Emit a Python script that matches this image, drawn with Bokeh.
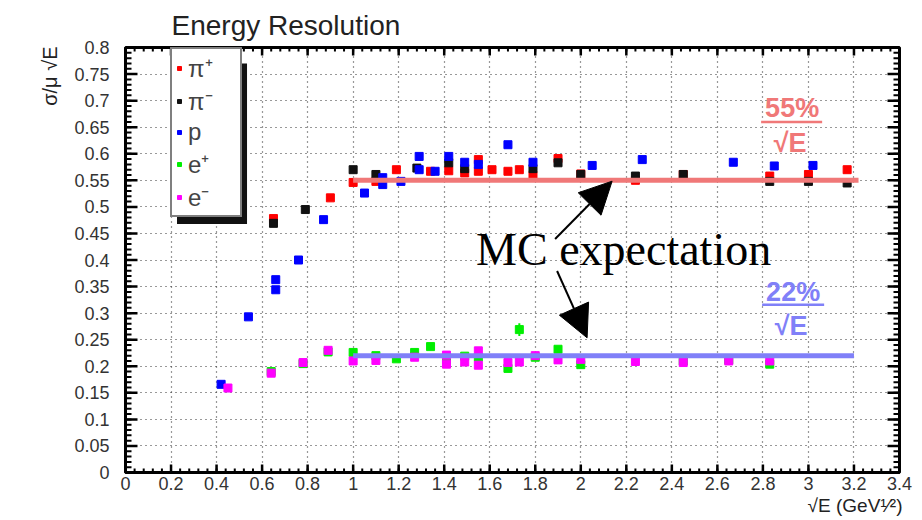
from math import pi
import numpy as np
from bokeh.plotting import figure
from bokeh.models import (Range1d, Label, BoxAnnotation, Legend, LegendItem, Title,
                          Arrow, NormalHead, FixedTicker)
from bokeh.embed import file_html
from bokeh.resources import INLINE

# ---------------- data ----------------
pip_x = [0.65, 0.90, 1.00, 1.10, 1.19, 1.34, 1.42, 1.49, 1.55, 1.55, 1.61, 1.68, 1.73,
         1.79, 1.90, 2.00, 2.24, 2.45, 2.83, 3.00, 3.17]
pip_y = [0.478, 0.517, 0.546, 0.548, 0.570, 0.567, 0.568, 0.564, 0.589, 0.567, 0.570, 0.567, 0.570,
         0.559, 0.591, 0.562, 0.550, 0.561, 0.558, 0.561, 0.570]

pim_x = [0.65, 0.79, 1.00, 1.10, 1.28, 1.42, 1.49, 1.79, 1.90, 2.00, 2.24, 2.45, 2.83, 3.00, 3.17]
pim_y = [0.469, 0.495, 0.570, 0.561, 0.573, 0.583, 0.572, 0.572, 0.583, 0.561, 0.558, 0.561,
         0.548, 0.548, 0.545]

p_x = [0.42, 0.54, 0.66, 0.66, 0.76, 0.87, 1.05, 1.13, 1.13, 1.21, 1.29, 1.29, 1.36, 1.42,
       1.49, 1.55, 1.68, 1.79, 2.05, 2.27, 2.67, 2.85, 3.02]
p_y = [0.166, 0.293, 0.363, 0.344, 0.400, 0.476, 0.526, 0.555, 0.542, 0.548, 0.595, 0.570,
       0.567, 0.595, 0.584, 0.580, 0.617, 0.584, 0.578, 0.589, 0.584, 0.577, 0.578]

ep_x = [0.64, 0.78, 0.89, 1.00, 1.10, 1.19, 1.27, 1.34, 1.41, 1.49, 1.55, 1.68, 1.73,
        1.80, 1.90, 2.00, 2.45, 2.65, 2.83]
ep_y = [0.190, 0.205, 0.227, 0.226, 0.220, 0.214, 0.226, 0.237, 0.213, 0.219, 0.217, 0.196,
        0.269, 0.217, 0.232, 0.203, 0.210, 0.212, 0.204]
ep_err = [0.003, 0.003, 0.003, 0.003, 0.003, 0.003, 0.003, 0.003, 0.003, 0.003, 0.003, 0.003,
          0.012, 0.003, 0.004, 0.003, 0.003, 0.003, 0.003]

em_x = [0.45, 0.64, 0.78, 0.89, 1.00, 1.10, 1.27, 1.41, 1.41, 1.49, 1.55, 1.55, 1.68, 1.73,
        1.80, 1.90, 2.00, 2.24, 2.45, 2.65, 2.83]
em_y = [0.159, 0.187, 0.207, 0.230, 0.210, 0.211, 0.217, 0.221, 0.204, 0.208, 0.229, 0.202,
        0.207, 0.208, 0.220, 0.212, 0.213, 0.209, 0.207, 0.210, 0.210]

mc_had_x = [1.0, 3.22]
mc_had_y = [0.55, 0.55]
mc_em_x = [1.0, 3.2]
mc_em_y = [0.22, 0.22]

x_ticks = [0, 0.2, 0.4, 0.6, 0.8, 1, 1.2, 1.4, 1.6, 1.8, 2, 2.2, 2.4, 2.6, 2.8, 3, 3.2, 3.4]
x_labels = ["0", "0.2", "0.4", "0.6", "0.8", "1", "1.2", "1.4", "1.6", "1.8", "2", "2.2",
            "2.4", "2.6", "2.8", "3", "3.2", "3.4"]
y_ticks = [0, 0.05, 0.1, 0.15, 0.2, 0.25, 0.3, 0.35, 0.4, 0.45, 0.5, 0.55, 0.6, 0.65, 0.7,
           0.75, 0.8]
y_labels = ["0", "0.05", "0.1", "0.15", "0.2", "0.25", "0.3", "0.35", "0.4", "0.45", "0.5",
            "0.55", "0.6", "0.65", "0.7", "0.75", "0.8"]

X0, X1, Y0, Y1 = 0, 3.4, 0, 0.8

# ---------------- figure ----------------
p = figure(width=922, height=520, x_range=Range1d(X0, X1), y_range=Range1d(Y0, Y1),
           output_backend="svg", toolbar_location=None, title="Energy Resolution",
           min_border_left=125, min_border_right=23, min_border_top=46, min_border_bottom=48)
p.background_fill_color = "white"
p.border_fill_color = "white"
p.outline_line_color = "black"
p.outline_line_width = 3

p.title.text_font = "Liberation Sans"
p.title.text_font_size = "28px"
p.title.text_font_style = "normal"
p.title.text_color = "#222"
p.title.align = "left"
p.title.offset = 46
p.title.standoff = 14

x_minor = [float(round(v, 2)) for v in np.arange(0, 3.41, 0.04)]
y_minor = [float(round(v, 2)) for v in np.arange(0, 0.801, 0.01)]
xt = FixedTicker(ticks=x_ticks, minor_ticks=x_minor)
yt = FixedTicker(ticks=y_ticks, minor_ticks=y_minor)

xb = p.xaxis[0]
yl = p.yaxis[0]
xb.ticker = xt
yl.ticker = yt
xb.major_label_overrides = dict(zip(x_ticks, x_labels))
yl.major_label_overrides = dict(zip(y_ticks, y_labels))

for ax in [xb, yl]:
    ax.major_tick_in = 0
    ax.major_tick_out = 0
    ax.minor_tick_in = 0
    ax.minor_tick_out = 0
    ax.axis_line_width = 3
    ax.axis_line_color = "black"
    ax.major_label_text_font = "Liberation Sans"
    ax.major_label_text_color = "#333"
    ax.major_label_text_font_size = "18px"

xb.major_label_standoff = 4
yl.major_label_standoff = 16

# axis titles, placed at the far ends of the axes like the reference
p.add_layout(Title(text="√E (GeV¹⁄²)", align="right", offset=-3, standoff=0,
                   text_font="Liberation Sans", text_font_size="19px",
                   text_font_style="normal", text_color="#222"), "below")
p.add_layout(Title(text="σ/μ √E", align="right", offset=-1, standoff=22,
                   text_font="Liberation Sans", text_font_size="20px",
                   text_font_style="normal", text_color="#222"), "left")

p.xgrid.ticker = xt
p.ygrid.ticker = yt
for g in [p.xgrid[0], p.ygrid[0]]:
    g.grid_line_color = "#333"
    g.grid_line_dash = "1 4"
    g.grid_line_width = 1.2

# inward tick marks on all four sides (dash markers just inside the frame edges)
PX_X = (X1 - X0) / 774.0   # data units per screen pixel, x
PX_Y = (Y1 - Y0) / 426.0   # data units per screen pixel, y
tick_col = "black"
for xe, sgn in ((X0, 1), (X1, -1)):
    p.scatter(x=[xe + sgn * 6 * PX_X] * len(y_ticks), y=y_ticks, marker="dash", size=12,
              angle=0, line_width=2.5, line_color=tick_col)
    p.scatter(x=[xe + sgn * 3 * PX_X] * len(y_minor), y=y_minor, marker="dash", size=6,
              angle=0, line_width=2, line_color=tick_col)
for ye, sgn in ((Y0, 1), (Y1, -1)):
    p.scatter(x=x_ticks, y=[ye + sgn * 4 * PX_Y] * len(x_ticks), marker="dash", size=8,
              angle=pi / 2, line_width=2.5, line_color=tick_col)
    p.scatter(x=x_minor, y=[ye + sgn * 2 * PX_Y] * len(x_minor), marker="dash", size=4,
              angle=pi / 2, line_width=2, line_color=tick_col)

# ---------------- data marks ----------------
p.segment(x0=ep_x, y0=[y - e for y, e in zip(ep_y, ep_err)],
          x1=ep_x, y1=[y + e for y, e in zip(ep_y, ep_err)], line_color="#00ee00", line_width=2)
r_pip = p.scatter(pip_x, pip_y, marker="square", size=8, color="#ff0000")
r_pim = p.scatter(pim_x, pim_y, marker="square", size=8, color="#111111")
r_p = p.scatter(p_x, p_y, marker="square", size=8, color="#0000ff")
r_ep = p.scatter(ep_x, ep_y, marker="square", size=8, color="#00ee00")
r_em = p.scatter(em_x, em_y, marker="square", size=8, color="#ff00ff")

p.line(mc_had_x, mc_had_y, line_color="#f07878", line_width=5)
p.line(mc_em_x, mc_em_y, line_color="#8080f8", line_width=5)


def px_x(px):
    return (px - 125.5) / 227.6


def px_y(py):
    return 0.8 - (py - 46) / 532.5


# ---------------- legend with shadow ----------------
p.add_layout(BoxAnnotation(left=px_x(177), right=px_x(247), top=px_y(62), bottom=px_y(223),
                           fill_color="#111111", fill_alpha=1, line_alpha=0))
legend = Legend(items=[LegendItem(label="π⁺", renderers=[r_pip]),
                       LegendItem(label="π⁻", renderers=[r_pim]),
                       LegendItem(label="p", renderers=[r_p]),
                       LegendItem(label="e⁺", renderers=[r_ep]),
                       LegendItem(label="e⁻", renderers=[r_em])],
                location=(45, 255), margin=0, padding=2, spacing=0,
                label_height=30, glyph_height=30, glyph_width=10, label_standoff=4,
                label_width=50, label_text_font="Liberation Sans", label_text_font_size="24px",
                border_line_color="black", border_line_width=2,
                background_fill_color="white", background_fill_alpha=1)
p.add_layout(legend, "center")

# ---------------- texts inside the frame ----------------
red_txt = "#f07878"
blue_txt = "#8080f8"
SH = 0.37  # alphabetic baseline correction (fraction of font size)


def dlabel(px, py, text, size_px, **kw):
    p.add_layout(Label(x=px_x(px), y=px_y(py - SH * size_px), text=text,
                       text_font_size=f"{size_px}px", text_baseline="alphabetic", **kw))


dlabel(792, 117, "55%", 27, text_align="center", text_font="Liberation Sans",
       text_font_style="bold", text_color=red_txt)
p.add_layout(BoxAnnotation(left=px_x(761), right=px_x(822), top=px_y(119.5), bottom=px_y(122),
                           fill_color=red_txt, fill_alpha=1, line_alpha=0))
dlabel(790, 151.5, "√E", 27, text_align="center", text_font="Liberation Sans",
       text_font_style="bold", text_color=red_txt)

dlabel(793, 301.5, "22%", 27, text_align="center", text_font="Liberation Sans",
       text_font_style="bold", text_color=blue_txt)
p.add_layout(BoxAnnotation(left=px_x(762), right=px_x(824), top=px_y(302.5), bottom=px_y(305),
                           fill_color=blue_txt, fill_alpha=1, line_alpha=0))
dlabel(791, 335, "√E", 27, text_align="center", text_font="Liberation Sans",
       text_font_style="bold", text_color=blue_txt)

p.add_layout(Arrow(end=NormalHead(size=32, fill_color="black", line_color="black"),
                   x_start=px_x(555), y_start=px_y(238), x_end=px_x(612), y_end=px_y(180),
                   line_width=2, line_color="black"))
p.add_layout(Arrow(end=NormalHead(size=32, fill_color="black", line_color="black"),
                   x_start=px_x(557), y_start=px_y(270), x_end=px_x(587), y_end=px_y(337),
                   line_width=2, line_color="black"))
dlabel(476, 265, "MC expectation", 46, text_font="Liberation Serif", text_color="black")

open("out.html", "w").write(file_html(p, INLINE))
